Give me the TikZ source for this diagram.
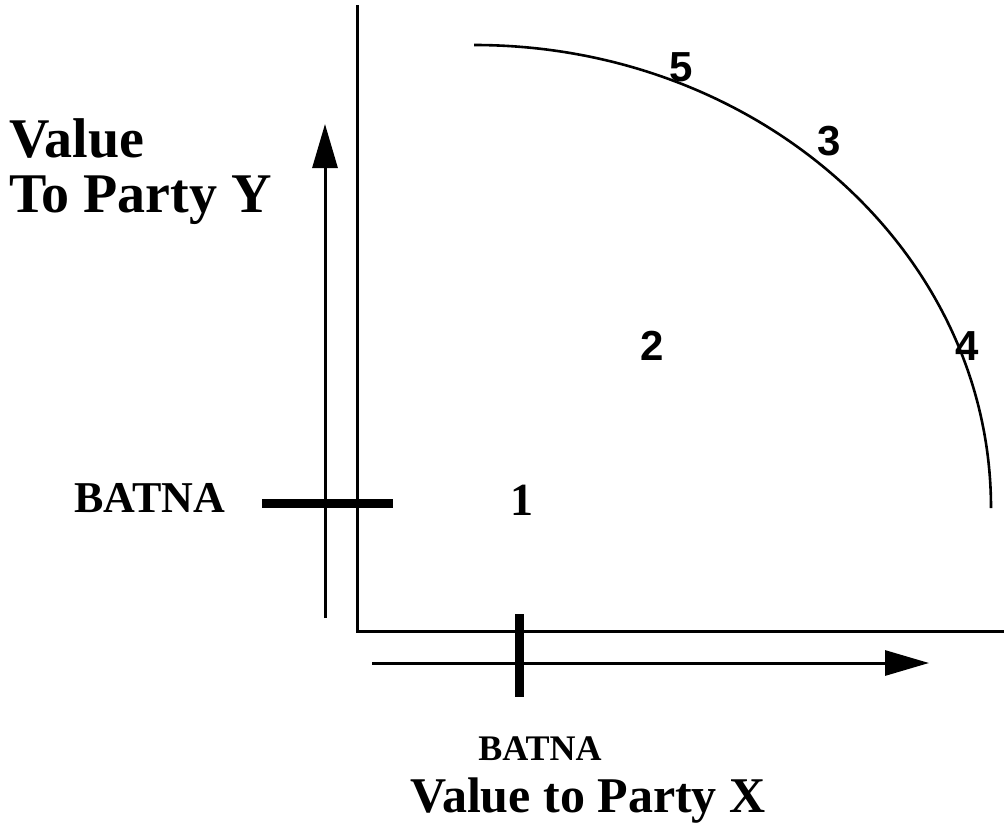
\documentclass[tikz,border=0pt]{standalone}
\usepackage{fontspec}
\setmainfont{Liberation Serif}
\newfontfamily\sansf{Liberation Sans}
\usetikzlibrary{arrows.meta}
\tikzset{
  axisline/.style={line width=3pt},
  arrowline/.style={line width=3pt,-{Triangle[length=44pt,width=25pt]}},
  batnabar/.style={line width=9pt},
  curveline/.style={line width=2.6pt},
  biglabel/.style={font=\bfseries\fontsize{56}{60}\selectfont,inner sep=0pt},
  batnalabel/.style={font=\bfseries\fontsize{44}{48}\selectfont,inner sep=0pt},
  numlabel/.style={font=\sansf\bfseries\fontsize{42}{48}\selectfont,inner sep=0pt}
}
\begin{document}
\begin{tikzpicture}[x=1pt,y=-1pt]
\useasboundingbox (0,0) rectangle (1004,827);
% axes
\coordinate (top) at (357,5);
\coordinate (origin) at (357,631);
\coordinate (right) at (1004,631);
\draw[axisline] (top) -- (origin) -- (right);
% direction arrows
\coordinate (yfrom) at (325,618);
\coordinate (yto) at (325,124);
\draw[arrowline] (yfrom) -- (yto);
\coordinate (xfrom) at (372,663);
\coordinate (xto) at (929,663);
\draw[arrowline] (xfrom) -- (xto);
% BATNA bars
\coordinate (byL) at (262,503);
\coordinate (byR) at (393,503);
\draw[batnabar] (byL) -- (byR);
\coordinate (bxT) at (519,614);
\coordinate (bxB) at (519,697);
\draw[batnabar] (bxT) -- (bxB);
% frontier
\coordinate (cstart) at (474,45);
\coordinate (cend) at (991,508);
\draw[curveline] (cstart) .. controls (759,45) and (991,252) .. (cend);
% labels
\node[biglabel,anchor=base west] (ylabA) at (9,157) {Value};
\node[biglabel,anchor=base west] (ylabB) at (9,212) {To Party Y};
\node[biglabel,anchor=base,font=\bfseries\fontsize{50}{60}\selectfont] (xlab) at (588,812) {Value to Party X};
\node[batnalabel,anchor=base] (batnaY) at (150,512) {BATNA};
\node[batnalabel,anchor=base,font=\bfseries\fontsize{36}{42}\selectfont] (batnaX) at (540,760) {BATNA};
\node[biglabel,anchor=base,font=\bfseries\fontsize{46}{48}\selectfont] (n1) at (522,515) {1};
\node[numlabel,anchor=base] (n2) at (652,360) {2};
\node[numlabel,anchor=base] (n3) at (829,155) {3};
\node[numlabel,anchor=base] (n4) at (967,360) {4};
\node[numlabel,anchor=base] (n5) at (681,81) {5};
\end{tikzpicture}
\end{document}
